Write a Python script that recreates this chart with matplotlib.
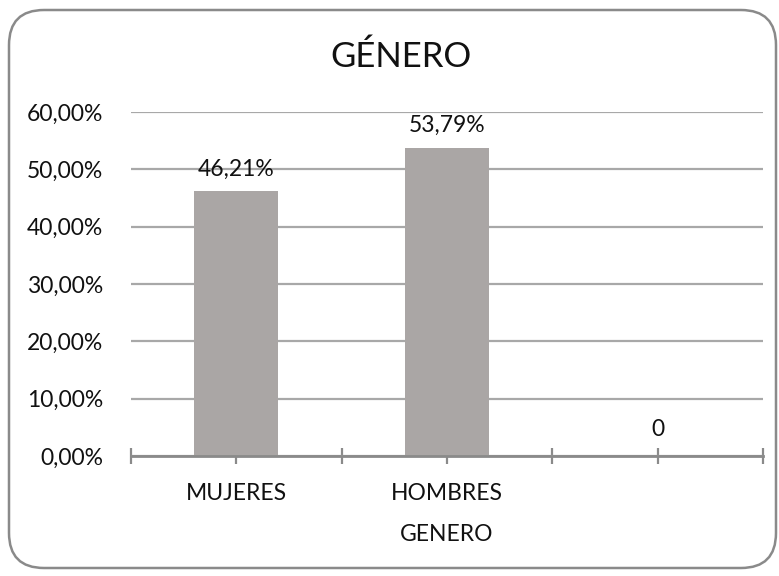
import matplotlib
matplotlib.use('Agg')
import matplotlib.pyplot as plt
from matplotlib.patches import FancyBboxPatch
import numpy as np

# 数据
categorias = ['MUJERES', 'HOMBRES', '']
valores = [0.4621, 0.5379, 0.0]
etiquetas = ['46,21%', '53,79%', '0']
yticks = [0.0, 0.1, 0.2, 0.3, 0.4, 0.5, 0.6]
ytick_labels = ['0,00%', '10,00%', '20,00%', '30,00%', '40,00%', '50,00%', '60,00%']

plt.rcParams['font.family'] = ['Lato', 'DejaVu Sans']

fig = plt.figure(figsize=(7.79, 5.76), dpi=100)
fig.patch.set_facecolor('white')

# 圆角边框
borde = FancyBboxPatch((9 / 779, 8 / 576), 767 / 779, 558 / 576,
                       boxstyle='round,pad=0,rounding_size=0.045',
                       transform=fig.transFigure, fill=False,
                       edgecolor='#8a8a8a', linewidth=1.8, mutation_aspect=779 / 576)
fig.patches.append(borde)

ax = fig.add_axes([131 / 779, 1 - 456 / 576, 632 / 779, 344 / 576])

x = np.arange(len(categorias))
ax.bar(x, valores, width=0.4, color='#aaa6a5', zorder=3)

texto = '#111111'
for xi, v, lab in zip(x, valores, etiquetas):
    off = 0.02 if v > 0 else 0.028
    ax.text(xi, v + off, lab, ha='center', va='bottom', fontsize=16.5, color=texto)

ax.set_xlim(-0.5, len(categorias) - 0.5)
ax.set_ylim(0, 0.6)
ax.set_yticks(yticks)
ax.set_yticklabels(ytick_labels, fontsize=16.5, color=texto)
ax.set_xticks(x)
ax.set_xticklabels(categorias, fontsize=16.5, color=texto)
ax.set_xticks(np.arange(-0.5, len(categorias)), minor=True)
ax.tick_params(axis='x', which='both', direction='inout', length=11, width=1.6,
               color='#8a8a8a', pad=14)
ax.tick_params(axis='y', length=0, pad=20)

ax.grid(True, axis='y', color='#a8a8a8', linewidth=1.6, zorder=0)
for s in ['top', 'right', 'left']:
    ax.spines[s].set_visible(False)
ax.spines['bottom'].set_color('#8a8a8a')
ax.spines['bottom'].set_linewidth(2)
ax.spines['bottom'].set_zorder(4)

ax.set_xlabel('GENERO', fontsize=16.5, color=texto, labelpad=14)

fig.text(0.515, 1 - 57 / 576, 'GÉNERO', ha='center', va='center', fontsize=25, color=texto)

plt.savefig('out.png', dpi=100, facecolor='white')
plt.close()
